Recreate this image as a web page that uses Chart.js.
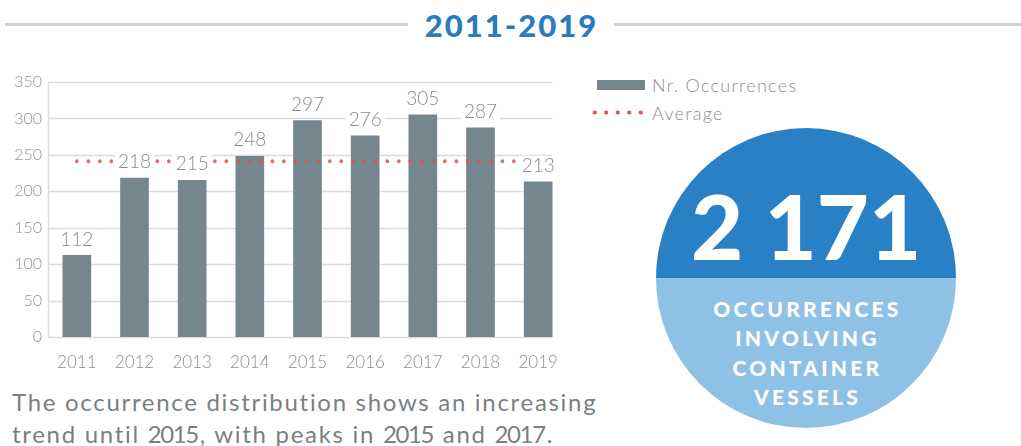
<!DOCTYPE html>
<html>
<head>
<meta charset="utf-8">
<script src="https://cdn.jsdelivr.net/npm/chart.js@4.4.1/dist/chart.umd.min.js"></script>
<style>
  html, body { margin:0; padding:0; background:#fff; }
  body { width:1021px; height:446px; position:relative; overflow:hidden; font-family: Lato, "Open Sans", sans-serif; }
  .rule { position:absolute; top:23px; height:3px; background:#d2d2d2; }
  #title { position:absolute; left:0; width:1021px; top:6px; text-align:center; font-family: Lato, sans-serif; font-weight:900; font-size:31px; color:#2a7cc0; letter-spacing:2px; }
  #title span { background:#fff; padding:0 10px 0 12px; }
  #chartBox { position:absolute; left:0; top:0; width:580px; height:380px; }
  .leg { position:absolute; font-size:18px; color:#8a8f94; font-weight:300; letter-spacing:1.3px; }
  #legBar { position:absolute; left:597px; top:80px; width:48px; height:10px; background:#76868f; }
  #legDots { position:absolute; left:589px; top:110px; width:58px; height:5px;
     background: radial-gradient(circle, #e0554f 1.8px, transparent 2.3px) 0 0 / 11.5px 5px repeat-x; }
  #circle { position:absolute; left:656px; top:128px; width:300px; height:300px; border-radius:50%;
     background: linear-gradient(to bottom, #2980c4 0, #2980c4 50%, #8fc1e5 50%, #8fc1e5 100%); overflow:hidden; }
  #big { position:absolute; left:0; width:300px; top:47px; text-align:center; color:#fff; font-family: Lato, sans-serif; font-weight:900; font-size:90px; line-height:100px; }
  #sub { position:absolute; left:0; width:300px; top:166px; text-align:center; color:#fff; font-family: Lato, sans-serif; font-weight:900; font-size:21px; line-height:29.3px; letter-spacing:3.2px; padding-left:3px; box-sizing:border-box; }
  #caption { position:absolute; left:12px; top:386px; font-size:24px; line-height:32px; color:#7b7f83; font-weight:400; letter-spacing:1.7px; }
  #caption .n { letter-spacing:-1.4px; margin-right:2px; }
</style>
</head>
<body>
<div class="rule" style="left:5px; width:403px;"></div>
<div class="rule" style="left:614px; width:407px;"></div>
<div id="title"><span>2011-2019</span></div>

<div id="chartBox"><canvas id="c" width="580" height="380"></canvas></div>

<div id="legBar"></div>
<div class="leg" style="left:652px; top:74px;">Nr. Occurrences</div>
<div id="legDots"></div>
<div class="leg" style="left:652px; top:102px;">Average</div>

<div id="circle">
  <div id="big">2 171</div>
  <div id="sub">OCCURRENCES<br>INVOLVING<br>CONTAINER<br>VESSELS</div>
</div>

<div id="caption">The occurrence distribution shows an increasing<br>trend until <span class="n">2015</span>, with peaks in <span class="n">2015</span> and <span class="n">2017</span>.</div>

<script>
const years = ["2011","2012","2013","2014","2015","2016","2017","2018","2019"];
const occurrences = [112, 218, 215, 248, 297, 276, 305, 287, 213];
const average = [241.2, 241.2, 241.2, 241.2, 241.2, 241.2, 241.2, 241.2, 241.2];
const yTicks = [0, 50, 100, 150, 200, 250, 300, 350];

const gridPlugin = {
  id: 'customGrid',
  beforeDatasetsDraw(chart) {
    const { ctx, chartArea, scales: { y } } = chart;
    const meta = chart.getDatasetMeta(0);
    const last = meta.data[meta.data.length - 1];
    const right = last.x + last.width / 2;
    ctx.save();
    ctx.strokeStyle = '#dcdcdc';
    ctx.lineWidth = 1.5;
    yTicks.forEach(v => {
      const py = Math.round(y.getPixelForValue(v)) + 0.5;
      ctx.beginPath(); ctx.moveTo(chartArea.left, py); ctx.lineTo(right, py); ctx.stroke();
    });
    ctx.beginPath();
    ctx.moveTo(chartArea.left + 0.5, y.getPixelForValue(yTicks[yTicks.length - 1]));
    ctx.lineTo(chartArea.left + 0.5, y.getPixelForValue(0));
    ctx.stroke();
    ctx.restore();
  }
};

const labelPlugin = {
  id: 'valueLabels',
  afterDatasetsDraw(chart) {
    const { ctx } = chart;
    const meta = chart.getDatasetMeta(0);
    ctx.save();
    ctx.font = '300 19px Lato, sans-serif';
    ctx.textAlign = 'center';
    ctx.textBaseline = 'middle';
    meta.data.forEach((bar, i) => {
      const txt = String(occurrences[i]);
      const w = ctx.measureText(txt).width;
      const py = bar.y - 16;
      ctx.fillStyle = '#ffffff';
      ctx.fillRect(bar.x - w / 2 - 3, py - 10, w + 6, 20);
      ctx.fillStyle = '#868b90';
      ctx.fillText(txt, bar.x, py);
    });
    ctx.restore();
  }
};

new Chart(document.getElementById('c'), {
  data: {
    labels: years,
    datasets: [
      {
        type: 'bar',
        label: 'Nr. Occurrences',
        data: occurrences,
        backgroundColor: '#76868f',
        barThickness: 28,
        order: 2
      },
      {
        type: 'line',
        label: 'Average',
        data: average,
        borderColor: 'rgba(226,80,74,0.85)',
        borderWidth: 3.8,
        borderDash: [0, 11.5],
        borderCapStyle: 'round',
        pointRadius: 0,
        fill: false,
        order: 1
      }
    ]
  },
  options: {
    responsive: false,
    animation: false,
    layout: { padding: { left: 0, top: 82, right: 13, bottom: 0 } },
    plugins: { legend: { display: false }, tooltip: { enabled: false } },
    scales: {
      x: {
        grid: { display: false, drawTicks: false },
        border: { display: false },
        ticks: { color: '#8a8e92', font: { family: 'Lato, sans-serif', size: 17, weight: 300 }, padding: 15 },
        afterFit(s) { s.height = 43; }
      },
      y: {
        min: 0, max: 350,
        grid: { display: false, drawTicks: false },
        border: { display: false },
        ticks: { stepSize: 50, color: '#8f9396', font: { family: 'Lato, sans-serif', size: 16, weight: 300 }, padding: 6 },
        afterFit(s) { s.width = 48; }
      }
    }
  },
  plugins: [gridPlugin, labelPlugin]
});
</script>
</body>
</html>
